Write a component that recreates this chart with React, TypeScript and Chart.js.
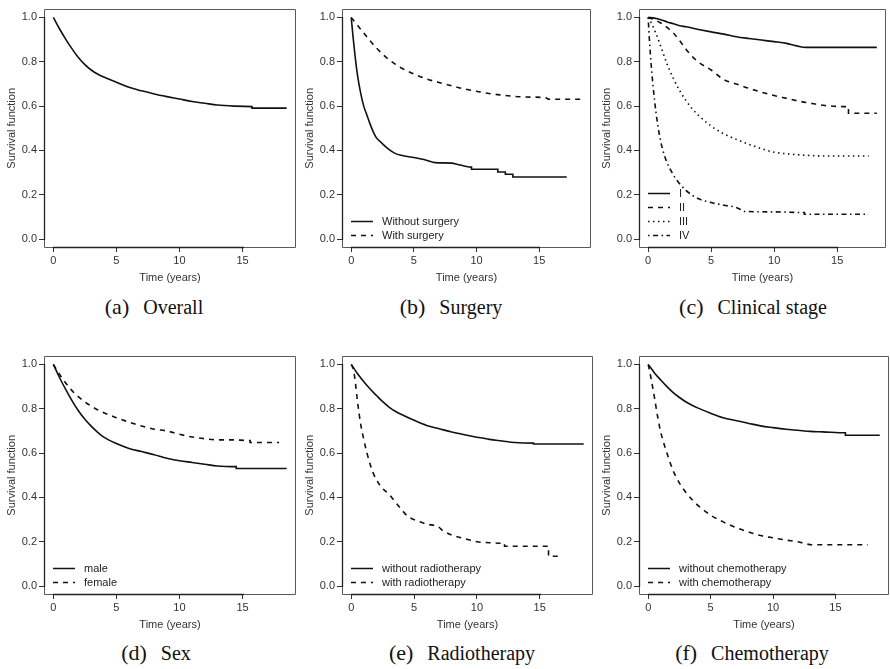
import React, { useEffect, useRef } from "react";
import { Chart, registerables } from "chart.js";
Chart.register(...registerables);

const FONT = "'Liberation Sans', Arial, Helvetica, sans-serif";
const SERIF = "'Liberation Serif', 'Times New Roman', Times, serif";

// ---------- axes ----------
const yTicks = [0, 0.2, 0.4, 0.6, 0.8, 1.0];
const xTicks = [0, 5, 10, 15];
const xTitle = "Time (years)";
const yTitle = "Survival function";

// ---------- (a) Overall ----------
const overallTime = [0, 0.5, 1, 1.5, 2, 2.5, 3, 3.5, 4, 5, 6, 7, 8, 9, 10, 11, 12, 13, 14.4, 15.75, 15.75, 18.5];
const overallSurv = [1.0, 0.948, 0.9, 0.857, 0.818, 0.787, 0.763, 0.745, 0.731, 0.708, 0.685, 0.669, 0.655, 0.643, 0.632, 0.621, 0.613, 0.605, 0.6, 0.598, 0.591, 0.591];

// ---------- (b) Surgery ----------
const surgeryLabels = ["Without surgery", "With surgery"];
const surgeryNoTime = [0, 0.15, 0.3, 0.5, 0.75, 1, 1.25, 1.5, 1.75, 2, 2.5, 3, 3.5, 4, 5, 6, 6.7, 8, 8.5, 9, 9.6, 9.6, 11.7, 11.7, 12.3, 12.3, 12.9, 12.9, 17.2];
const surgeryNoSurv = [1.0, 0.91, 0.83, 0.74, 0.66, 0.6, 0.56, 0.52, 0.485, 0.458, 0.43, 0.405, 0.387, 0.378, 0.368, 0.356, 0.345, 0.343, 0.337, 0.33, 0.325, 0.315, 0.315, 0.303, 0.303, 0.293, 0.293, 0.28, 0.28];
const surgeryYesTime = [0, 0.5, 1, 1.5, 2, 2.5, 3, 3.5, 4, 5, 6, 7, 8, 9, 10, 11, 12, 13, 14, 15.5, 15.8, 18.4];
const surgeryYesSurv = [1.0, 0.965, 0.93, 0.895, 0.863, 0.835, 0.81, 0.79, 0.772, 0.745, 0.723, 0.707, 0.692, 0.678, 0.667, 0.657, 0.65, 0.644, 0.641, 0.638, 0.631, 0.631];

// ---------- (c) Clinical stage ----------
const stageLabels = ["I", "II", "III", "IV"];
const stage1Time = [0, 0.5, 1, 1.5, 2, 2.5, 3, 4, 5, 6, 7, 8, 9, 10, 11, 11.5, 12, 12.5, 18.15];
const stage1Surv = [1.0, 0.997, 0.99, 0.98, 0.972, 0.963, 0.958, 0.946, 0.935, 0.925, 0.913, 0.905, 0.898, 0.891, 0.883, 0.876, 0.869, 0.865, 0.865];
const stage2Time = [0, 0.5, 1, 1.5, 2, 2.5, 3, 3.5, 4, 5, 6, 7, 8, 9, 10, 11, 12, 13, 14, 15.5, 15.9, 15.9, 18.15];
const stage2Surv = [1.0, 0.99, 0.975, 0.955, 0.93, 0.895, 0.857, 0.824, 0.798, 0.763, 0.72, 0.7, 0.68, 0.663, 0.648, 0.635, 0.622, 0.612, 0.603, 0.598, 0.598, 0.568, 0.568];
const stage3Time = [0, 0.3, 0.6, 1, 1.5, 2, 2.5, 3, 3.5, 4, 5, 6, 7, 8, 9, 10, 11, 12, 13, 14, 17.5];
const stage3Surv = [1.0, 0.97, 0.93, 0.87, 0.79, 0.725, 0.67, 0.625, 0.588, 0.558, 0.51, 0.475, 0.45, 0.428, 0.408, 0.392, 0.385, 0.38, 0.377, 0.375, 0.375];
const stage4Time = [0, 0.1, 0.25, 0.5, 0.75, 1, 1.25, 1.5, 2, 2.5, 3, 3.5, 4, 5, 6, 7, 7.7, 10, 12.4, 12.4, 17.5];
const stage4Surv = [1.0, 0.9, 0.78, 0.63, 0.52, 0.44, 0.385, 0.345, 0.29, 0.25, 0.22, 0.198, 0.182, 0.165, 0.153, 0.143, 0.125, 0.123, 0.12, 0.112, 0.112];

// ---------- (d) Sex ----------
const sexLabels = ["male", "female"];
const maleTime = [0, 0.5, 1, 1.5, 2, 2.5, 3, 3.5, 4, 5, 6, 7, 8, 9, 10, 11, 12, 13, 14.5, 14.5, 18.5];
const maleSurv = [1.0, 0.94, 0.885, 0.835, 0.79, 0.753, 0.722, 0.695, 0.672, 0.643, 0.621, 0.607, 0.593, 0.577, 0.566, 0.558, 0.55, 0.542, 0.539, 0.531, 0.531];
const femaleTime = [0, 0.5, 1, 1.5, 2, 2.5, 3, 3.5, 4, 5, 6, 7, 8, 9, 10, 11, 12, 13, 14, 15.6, 15.6, 17.9];
const femaleSurv = [1.0, 0.955, 0.915, 0.881, 0.854, 0.831, 0.812, 0.796, 0.782, 0.76, 0.74, 0.722, 0.708, 0.7, 0.685, 0.673, 0.665, 0.66, 0.66, 0.657, 0.648, 0.648];

// ---------- (e) Radiotherapy ----------
const radioLabels = ["without radiotherapy", "with radiotherapy"];
const radioNoTime = [0, 0.5, 1, 1.5, 2, 2.5, 3, 3.5, 4, 5, 6, 7, 8, 9, 10, 11, 12, 13, 14.5, 14.5, 18.5];
const radioNoSurv = [1.0, 0.958, 0.922, 0.889, 0.86, 0.832, 0.808, 0.789, 0.774, 0.748, 0.725, 0.71, 0.695, 0.683, 0.672, 0.662, 0.655, 0.648, 0.645, 0.641, 0.641];
const radioYesTime = [0, 0.15, 0.3, 0.5, 0.75, 1, 1.25, 1.5, 1.75, 2, 2.5, 3, 3.5, 4, 4.5, 5, 6, 6.9, 7.3, 8, 9, 10, 11, 12.2, 12.2, 15.7, 15.7, 16.6];
const radioYesSurv = [1.0, 0.98, 0.93, 0.83, 0.73, 0.66, 0.6, 0.55, 0.51, 0.48, 0.44, 0.415, 0.38, 0.345, 0.315, 0.3, 0.28, 0.268, 0.25, 0.23, 0.215, 0.2, 0.196, 0.193, 0.18, 0.18, 0.135, 0.135];

// ---------- (f) Chemotherapy ----------
const chemoLabels = ["without chemotherapy", "with chemotherapy"];
const chemoNoTime = [0, 0.5, 1, 1.5, 2, 2.5, 3, 3.5, 4, 5, 6, 7, 8, 9, 10, 11, 12, 13, 14, 15.8, 15.8, 18.55];
const chemoNoSurv = [1.0, 0.962, 0.93, 0.9, 0.873, 0.851, 0.832, 0.816, 0.803, 0.78, 0.76, 0.747, 0.735, 0.723, 0.715, 0.708, 0.703, 0.698, 0.696, 0.692, 0.681, 0.681];
const chemoYesTime = [0, 0.25, 0.5, 0.75, 1, 1.5, 2, 2.5, 3, 3.5, 4, 5, 6, 7, 8, 9, 10, 11, 12, 13.1, 17.6];
const chemoYesSurv = [1.0, 0.93, 0.85, 0.765, 0.695, 0.6, 0.52, 0.465, 0.424, 0.391, 0.363, 0.32, 0.29, 0.265, 0.245, 0.228, 0.218, 0.208, 0.2, 0.187, 0.187];

// ---------- captions ----------
const captionLetters = ["(a)", "(b)", "(c)", "(d)", "(e)", "(f)"];
const captionNames = ["Overall", "Surgery", "Clinical stage", "Sex", "Radiotherapy", "Chemotherapy"];

// ---------- styles / layout ----------
const DASH: Record<string, number[]> = {
  solid: [],
  dashed: [5, 5],
  dotted: [1.5, 3.5],
  dotdash: [1.5, 3.5, 5, 3.5],
};

type Curve = { label: string; t: number[]; s: number[]; style: string };
type PanelCfg = {
  letter: string;
  name: string;
  curves: Curve[];
  legend: boolean;
  box: [number, number, number, number];
  cap: [number, number];
};

const panels: PanelCfg[] = [
  {
    letter: captionLetters[0], name: captionNames[0], legend: false,
    curves: [{ label: "Overall", t: overallTime, s: overallSurv, style: "solid" }],
    box: [44, 7, 296, 248], cap: [154, 307],
  },
  {
    letter: captionLetters[1], name: captionNames[1], legend: true,
    curves: [
      { label: surgeryLabels[0], t: surgeryNoTime, s: surgeryNoSurv, style: "solid" },
      { label: surgeryLabels[1], t: surgeryYesTime, s: surgeryYesSurv, style: "dashed" },
    ],
    box: [342, 7, 591, 248], cap: [451, 307],
  },
  {
    letter: captionLetters[2], name: captionNames[2], legend: true,
    curves: [
      { label: stageLabels[0], t: stage1Time, s: stage1Surv, style: "solid" },
      { label: stageLabels[1], t: stage2Time, s: stage2Surv, style: "dashed" },
      { label: stageLabels[2], t: stage3Time, s: stage3Surv, style: "dotted" },
      { label: stageLabels[3], t: stage4Time, s: stage4Surv, style: "dotdash" },
    ],
    box: [639, 7, 886, 248], cap: [753, 307],
  },
  {
    letter: captionLetters[3], name: captionNames[3], legend: true,
    curves: [
      { label: sexLabels[0], t: maleTime, s: maleSurv, style: "solid" },
      { label: sexLabels[1], t: femaleTime, s: femaleSurv, style: "dashed" },
    ],
    box: [44, 354, 296, 595], cap: [156, 653],
  },
  {
    letter: captionLetters[4], name: captionNames[4], legend: true,
    curves: [
      { label: radioLabels[0], t: radioNoTime, s: radioNoSurv, style: "solid" },
      { label: radioLabels[1], t: radioYesTime, s: radioYesSurv, style: "dashed" },
    ],
    box: [342, 354, 593, 595], cap: [462, 653],
  },
  {
    letter: captionLetters[5], name: captionNames[5], legend: true,
    curves: [
      { label: chemoLabels[0], t: chemoNoTime, s: chemoNoSurv, style: "solid" },
      { label: chemoLabels[1], t: chemoYesTime, s: chemoYesSurv, style: "dashed" },
    ],
    box: [639, 354, 889, 595], cap: [752, 653],
  },
];

const Y_AXIS_W = 44;
const X_AXIS_H = 42;
const PAD_TOP = 7;
const PAD_RIGHT = 2;

const framePlugin = {
  id: "frameLegend",
  afterDatasetsDraw(chart: any, _args: any, opts: any) {
    const { ctx, chartArea: ca, scales } = chart;
    const L = Math.round(ca.left) + 0.5;
    const T = Math.round(ca.top) + 0.5;
    const R = Math.round(ca.right) - 0.5;
    const B = Math.round(ca.bottom) - 0.5;
    ctx.save();
    ctx.setLineDash([]);
    ctx.lineWidth = 1;
    ctx.strokeStyle = "#5a5a5a";
    ctx.beginPath();
    ctx.rect(L, T, R - L, B - T);
    ctx.stroke();
    ctx.strokeStyle = "#222";
    ctx.lineWidth = 1.3;
    const x0 = scales.x.getPixelForValue(xTicks[0]);
    const x1 = scales.x.getPixelForValue(xTicks[xTicks.length - 1]);
    const y0 = scales.y.getPixelForValue(yTicks[0]);
    const y1 = scales.y.getPixelForValue(yTicks[yTicks.length - 1]);
    ctx.beginPath();
    ctx.moveTo(Math.round(x0), B);
    ctx.lineTo(Math.round(x1) + 1, B);
    ctx.moveTo(L, Math.round(y0) + 1);
    ctx.lineTo(L, Math.round(y1));
    ctx.stroke();

    if (opts && opts.show) {
      const ds = chart.data.datasets;
      const n = ds.length;
      ctx.font = `11px ${FONT}`;
      ctx.textBaseline = "middle";
      ctx.textAlign = "left";
      ds.forEach((d: any, i: number) => {
        const y = Math.round(ca.bottom - 13 - (n - 1 - i) * 14) + 0.5;
        ctx.strokeStyle = "#111";
        ctx.lineWidth = 1.5;
        ctx.setLineDash(d.borderDash || []);
        ctx.beginPath();
        ctx.moveTo(ca.left + 9, y);
        ctx.lineTo(ca.left + 31, y);
        ctx.stroke();
        ctx.setLineDash([]);
        ctx.fillStyle = "#222";
        ctx.fillText(d.label, ca.left + 40, y);
      });
    }
    ctx.restore();
  },
};

function Panel({ cfg }: { cfg: PanelCfg }) {
  const ref = useRef<HTMLCanvasElement | null>(null);
  const [bl, bt, br, bb] = cfg.box;
  const cw = br - bl + Y_AXIS_W + PAD_RIGHT;
  const ch = bb - bt + PAD_TOP + X_AXIS_H;
  const cl = bl - Y_AXIS_W;
  const ct = bt - PAD_TOP;

  useEffect(() => {
    if (!ref.current) return;
    const tEnd = Math.max(...cfg.curves.map((c) => Math.max(...c.t)));
    const chart = new Chart(ref.current, {
      type: "line",
      data: {
        datasets: cfg.curves.map((c) => ({
          label: c.label,
          data: c.t.map((t, i) => ({ x: t, y: c.s[i] })),
          borderColor: "#111",
          borderWidth: 1.6,
          borderDash: DASH[c.style],
          pointRadius: 0,
          fill: false,
          cubicInterpolationMode: "monotone",
        })),
      },
      options: {
        responsive: false,
        animation: false,
        events: [],
        layout: { padding: { top: PAD_TOP, right: PAD_RIGHT, left: 0, bottom: 0 } },
        plugins: {
          legend: { display: false },
          tooltip: { enabled: false },
          frameLegend: { show: cfg.legend },
        } as any,
        scales: {
          x: {
            type: "linear",
            min: -0.04 * tEnd,
            max: 1.04 * tEnd,
            afterBuildTicks: (ax: any) => {
              ax.ticks = xTicks.map((v) => ({ value: v }));
            },
            afterFit: (ax: any) => {
              ax.height = X_AXIS_H;
            },
            grid: { drawOnChartArea: false, drawTicks: true, tickLength: 4, color: "#333", lineWidth: 1 },
            border: { display: false },
            ticks: {
              font: { family: FONT, size: 11 },
              color: "#333",
              padding: 2,
              maxRotation: 0,
              autoSkip: false,
              callback: (v: any) => String(v),
            },
            title: {
              display: true,
              text: xTitle,
              font: { family: FONT, size: 11 },
              color: "#333",
              padding: { top: 0, bottom: 5 },
            },
          },
          y: {
            type: "linear",
            min: -0.04,
            max: 1.04,
            afterBuildTicks: (ax: any) => {
              ax.ticks = yTicks.map((v) => ({ value: v }));
            },
            afterFit: (ax: any) => {
              ax.width = Y_AXIS_W;
            },
            grid: { drawOnChartArea: false, drawTicks: true, tickLength: 5, color: "#333", lineWidth: 1 },
            border: { display: false },
            ticks: {
              font: { family: FONT, size: 11 },
              color: "#333",
              padding: 2,
              autoSkip: false,
              callback: (v: any) => Number(v).toFixed(1),
            },
            title: {
              display: true,
              text: yTitle,
              font: { family: FONT, size: 11 },
              color: "#333",
              padding: { top: 5, bottom: 0 },
            },
          },
        },
      } as any,
      plugins: [framePlugin],
    });
    return () => chart.destroy();
  }, [cfg]);

  return (
    <>
      <canvas
        ref={ref}
        width={cw}
        height={ch}
        style={{ position: "absolute", left: cl, top: ct, width: cw, height: ch }}
      />
      <div
        style={{
          position: "absolute",
          left: cfg.cap[0] - 150,
          top: cfg.cap[1] - 14,
          width: 300,
          height: 28,
          lineHeight: "28px",
          textAlign: "center",
          fontFamily: SERIF,
          fontSize: 20,
          color: "#111",
          whiteSpace: "nowrap",
        }}
      >
        <span style={{ fontSize: 22 }}>{cfg.letter}</span>
        <span style={{ marginLeft: 14 }}>{cfg.name}</span>
      </div>
    </>
  );
}

export default function App() {
  return (
    <div
      style={{
        position: "absolute",
        left: 0,
        top: 0,
        width: 890,
        height: 669,
        overflow: "hidden",
        background: "#fff",
      }}
    >
      {panels.map((p) => (
        <Panel key={p.letter} cfg={p} />
      ))}
    </div>
  );
}
